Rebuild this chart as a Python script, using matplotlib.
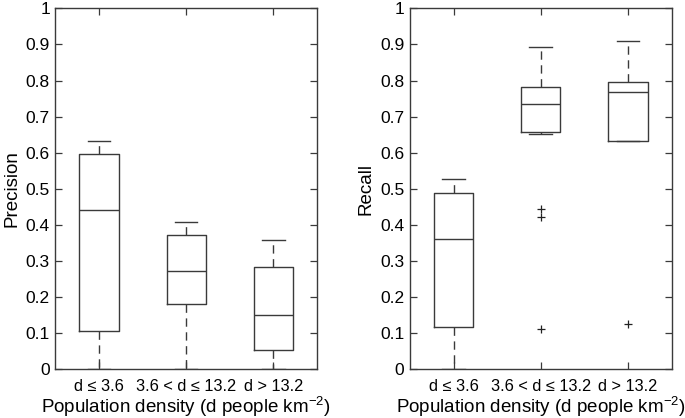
import matplotlib
matplotlib.use("Agg")
import matplotlib.pyplot as plt

plt.rcParams['font.family'] = ['Liberation Sans', 'DejaVu Sans']
plt.rcParams['mathtext.fontset'] = 'custom'
plt.rcParams['mathtext.rm'] = 'Liberation Sans'

categories = ["d ≤ 3.6", "3.6 < d ≤ 13.2", "d > 13.2"]
yticks = [0, 0.1, 0.2, 0.3, 0.4, 0.5, 0.6, 0.7, 0.8, 0.9, 1]
ytick_labels = ["0", "0.1", "0.2", "0.3", "0.4", "0.5", "0.6", "0.7", "0.8", "0.9", "1"]

# Precision box statistics
prec_whislo = [0.0, 0.0, 0.0]
prec_q1 = [0.107, 0.181, 0.054]
prec_med = [0.440, 0.272, 0.150]
prec_q3 = [0.597, 0.371, 0.284]
prec_whishi = [0.633, 0.408, 0.357]
prec_fliers = [[], [], []]

# Recall box statistics
rec_whislo = [0.0, 0.651, 0.633]
rec_q1 = [0.117, 0.658, 0.633]
rec_med = [0.361, 0.735, 0.769]
rec_q3 = [0.488, 0.783, 0.796]
rec_whishi = [0.527, 0.892, 0.909]
rec_fliers = [[], [0.444, 0.422, 0.111], [0.126]]

fig = plt.figure(figsize=(6.85, 4.18), dpi=100)
ax1 = fig.add_axes([0.081, 0.1165, 0.3814, 0.8636])
ax2 = fig.add_axes([0.5985, 0.1165, 0.382, 0.8636])

lc = '#3a3a3a'

def draw(ax, wlo, q1, med, q3, whi, fl, ylabel):
    stats = []
    for i in range(len(categories)):
        stats.append(dict(whislo=wlo[i], q1=q1[i], med=med[i], q3=q3[i],
                          whishi=whi[i], fliers=fl[i], label=categories[i]))
    ax.bxp(stats, positions=[1, 2, 3], widths=0.45, showfliers=True,
           boxprops=dict(color=lc, linewidth=1.0),
           medianprops=dict(color=lc, linewidth=1.0),
           whiskerprops=dict(color=lc, linewidth=1.0, linestyle=(0, (6, 4))),
           capprops=dict(color=lc, linewidth=1.0),
           capwidths=0.26,
           flierprops=dict(marker='+', markeredgecolor='#222222', markersize=6,
                           markeredgewidth=0.9, linestyle='none'))
    ax.set_xlim(0.5, 3.5)
    ax.set_ylim(0, 1)
    ax.set_yticks(yticks)
    ax.set_yticklabels(ytick_labels)
    ax.set_xticks([1, 2, 3])
    ax.set_xticklabels(categories)
    ax.tick_params(direction='in', length=5, width=0.9, color=lc,
                   top=True, right=True, labelsize=12.5, pad=4)
    ax.tick_params(axis='x', pad=7, labelsize=11.8)
    for s in ax.spines.values():
        s.set_color(lc)
        s.set_linewidth(1.0)
    ax.set_ylabel(ylabel, fontsize=13.5, labelpad=4)
    ax.set_xlabel("Population density (d people km$^{\\mathregular{-2}}$)", fontsize=13.5, labelpad=0)

draw(ax1, prec_whislo, prec_q1, prec_med, prec_q3, prec_whishi, prec_fliers, "Precision")
draw(ax2, rec_whislo, rec_q1, rec_med, rec_q3, rec_whishi, rec_fliers, "Recall")

fig.savefig("out.png", dpi=100)
